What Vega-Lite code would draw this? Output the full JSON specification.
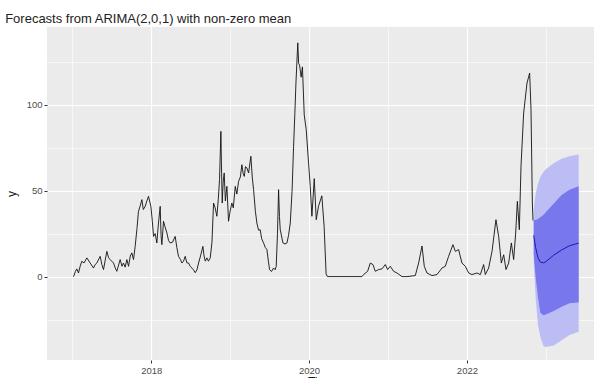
{
  "$schema": "https://vega.github.io/schema/vega-lite/v6.json",
  "width": 547,
  "height": 333,
  "autosize": {"type": "none"},
  "padding": {"left": 47, "top": 27, "right": 0, "bottom": 18},
  "background": "white",
  "title": {
    "text": "Forecasts from ARIMA(2,0,1) with non-zero mean",
    "anchor": "start",
    "font": "Liberation Sans",
    "fontSize": 13,
    "fontWeight": "normal",
    "color": "#222222",
    "offset": 4,
    "dy": 3
  },
  "config": {
    "view": {"fill": "#EBEBEB", "stroke": null},
    "axis": {
      "labelFont": "Liberation Sans",
      "titleFont": "Liberation Sans",
      "labelColor": "#4D4D4D",
      "labelFontSize": 9.5,
      "titleFontSize": 12,
      "titleFontWeight": "normal",
      "titleColor": "#1a1a1a",
      "domain": false,
      "gridColor": "white",
      "tickColor": "#333333",
      "tickSize": 3,
      "labelPadding": 2
    }
  },
  "datasets": {
    "obs": [
      {"t": 2017.016, "y": 0}, {"t": 2017.04, "y": 3}, {"t": 2017.058, "y": 4.5}, {"t": 2017.079, "y": 2.1},
      {"t": 2017.10, "y": 6}, {"t": 2017.121, "y": 8.9}, {"t": 2017.15, "y": 8}, {"t": 2017.185, "y": 10.9},
      {"t": 2017.227, "y": 7.9}, {"t": 2017.269, "y": 5.0}, {"t": 2017.29, "y": 7}, {"t": 2017.311, "y": 7.9},
      {"t": 2017.354, "y": 11.8}, {"t": 2017.375, "y": 7}, {"t": 2017.396, "y": 4.1}, {"t": 2017.438, "y": 14.7},
      {"t": 2017.46, "y": 11}, {"t": 2017.48, "y": 9.9}, {"t": 2017.523, "y": 7.9}, {"t": 2017.545, "y": 5},
      {"t": 2017.565, "y": 3.1}, {"t": 2017.607, "y": 9.9}, {"t": 2017.63, "y": 6}, {"t": 2017.649, "y": 7.9},
      {"t": 2017.67, "y": 5.5}, {"t": 2017.692, "y": 9.9}, {"t": 2017.713, "y": 6.0}, {"t": 2017.735, "y": 12},
      {"t": 2017.755, "y": 13.8}, {"t": 2017.776, "y": 9.9}, {"t": 2017.797, "y": 17.6}, {"t": 2017.82, "y": 28},
      {"t": 2017.839, "y": 38.0}, {"t": 2017.86, "y": 41}, {"t": 2017.882, "y": 44.8}, {"t": 2017.90, "y": 39},
      {"t": 2017.924, "y": 40.9}, {"t": 2017.945, "y": 44}, {"t": 2017.966, "y": 46.7}, {"t": 2017.996, "y": 40.9},
      {"t": 2018.015, "y": 32}, {"t": 2018.03, "y": 23.4}, {"t": 2018.05, "y": 25}, {"t": 2018.072, "y": 19.6},
      {"t": 2018.09, "y": 30}, {"t": 2018.114, "y": 40.9}, {"t": 2018.125, "y": 24}, {"t": 2018.135, "y": 18.6},
      {"t": 2018.156, "y": 32.2}, {"t": 2018.175, "y": 29}, {"t": 2018.199, "y": 25.4}, {"t": 2018.22, "y": 21},
      {"t": 2018.241, "y": 19.6}, {"t": 2018.27, "y": 20}, {"t": 2018.304, "y": 23.4}, {"t": 2018.325, "y": 17},
      {"t": 2018.346, "y": 11.8}, {"t": 2018.37, "y": 10}, {"t": 2018.389, "y": 7.9}, {"t": 2018.41, "y": 9},
      {"t": 2018.431, "y": 11.8}, {"t": 2018.452, "y": 8}, {"t": 2018.473, "y": 7.9}, {"t": 2018.495, "y": 6},
      {"t": 2018.515, "y": 5.0}, {"t": 2018.535, "y": 4}, {"t": 2018.558, "y": 2.3}, {"t": 2018.58, "y": 4},
      {"t": 2018.60, "y": 7.9}, {"t": 2018.625, "y": 12}, {"t": 2018.655, "y": 17.6}, {"t": 2018.67, "y": 12},
      {"t": 2018.685, "y": 9}, {"t": 2018.706, "y": 10.9}, {"t": 2018.725, "y": 9}, {"t": 2018.748, "y": 10.9},
      {"t": 2018.77, "y": 20}, {"t": 2018.79, "y": 42.8}, {"t": 2018.81, "y": 40}, {"t": 2018.832, "y": 35.1},
      {"t": 2018.85, "y": 45}, {"t": 2018.866, "y": 56.4}, {"t": 2018.883, "y": 84.5}, {"t": 2018.892, "y": 60},
      {"t": 2018.90, "y": 42.8}, {"t": 2018.912, "y": 55}, {"t": 2018.925, "y": 60.3}, {"t": 2018.94, "y": 44},
      {"t": 2018.959, "y": 52.5}, {"t": 2018.98, "y": 32.2}, {"t": 2019.00, "y": 38}, {"t": 2019.022, "y": 42.8},
      {"t": 2019.04, "y": 40}, {"t": 2019.065, "y": 52.5}, {"t": 2019.085, "y": 48}, {"t": 2019.107, "y": 55.4},
      {"t": 2019.13, "y": 58}, {"t": 2019.149, "y": 65.1}, {"t": 2019.165, "y": 60}, {"t": 2019.179, "y": 58.3},
      {"t": 2019.195, "y": 64}, {"t": 2019.213, "y": 63.2}, {"t": 2019.234, "y": 60.3}, {"t": 2019.263, "y": 70.0},
      {"t": 2019.28, "y": 58}, {"t": 2019.297, "y": 50.6}, {"t": 2019.32, "y": 38}, {"t": 2019.339, "y": 31.2},
      {"t": 2019.36, "y": 27}, {"t": 2019.381, "y": 27.3}, {"t": 2019.40, "y": 22}, {"t": 2019.424, "y": 19.6},
      {"t": 2019.445, "y": 17}, {"t": 2019.466, "y": 15.7}, {"t": 2019.485, "y": 9}, {"t": 2019.50, "y": 4.0},
      {"t": 2019.525, "y": 3}, {"t": 2019.55, "y": 5.0}, {"t": 2019.57, "y": 4}, {"t": 2019.584, "y": 6},
      {"t": 2019.60, "y": 25}, {"t": 2019.614, "y": 50.6}, {"t": 2019.625, "y": 35}, {"t": 2019.635, "y": 27.3},
      {"t": 2019.669, "y": 19.6}, {"t": 2019.695, "y": 19}, {"t": 2019.72, "y": 19.6}, {"t": 2019.74, "y": 24},
      {"t": 2019.762, "y": 31.2}, {"t": 2019.785, "y": 50}, {"t": 2019.804, "y": 75.8}, {"t": 2019.82, "y": 95},
      {"t": 2019.834, "y": 112.6}, {"t": 2019.857, "y": 136}, {"t": 2019.868, "y": 124}, {"t": 2019.88, "y": 123},
      {"t": 2019.9, "y": 116}, {"t": 2019.916, "y": 122}, {"t": 2019.939, "y": 94}, {"t": 2019.964, "y": 85.5},
      {"t": 2019.994, "y": 66}, {"t": 2020.015, "y": 52.5}, {"t": 2020.036, "y": 35.1}, {"t": 2020.066, "y": 57},
      {"t": 2020.091, "y": 33.1}, {"t": 2020.12, "y": 41}, {"t": 2020.162, "y": 47}, {"t": 2020.191, "y": 29.2},
      {"t": 2020.216, "y": 1.6}, {"t": 2020.233, "y": 0}, {"t": 2020.67, "y": 0}, {"t": 2020.691, "y": 1.2},
      {"t": 2020.742, "y": 3.1}, {"t": 2020.776, "y": 7.9}, {"t": 2020.81, "y": 7.0}, {"t": 2020.839, "y": 3.1},
      {"t": 2020.881, "y": 4.1}, {"t": 2020.924, "y": 4.5}, {"t": 2020.966, "y": 7.0}, {"t": 2020.995, "y": 4.1},
      {"t": 2021.029, "y": 6.0}, {"t": 2021.071, "y": 3.1}, {"t": 2021.114, "y": 2.1}, {"t": 2021.177, "y": 0},
      {"t": 2021.24, "y": 0}, {"t": 2021.346, "y": 0.6}, {"t": 2021.388, "y": 7.9}, {"t": 2021.431, "y": 17.8},
      {"t": 2021.46, "y": 6.0}, {"t": 2021.494, "y": 2.1}, {"t": 2021.557, "y": 0.6}, {"t": 2021.621, "y": 1.2},
      {"t": 2021.684, "y": 5.0}, {"t": 2021.726, "y": 6.0}, {"t": 2021.768, "y": 11.8}, {"t": 2021.823, "y": 18.6},
      {"t": 2021.853, "y": 14.7}, {"t": 2021.895, "y": 15.7}, {"t": 2021.937, "y": 7.9}, {"t": 2021.98, "y": 6.0},
      {"t": 2022.022, "y": 2.1}, {"t": 2022.064, "y": 1.2}, {"t": 2022.128, "y": 2.1}, {"t": 2022.17, "y": 1.2},
      {"t": 2022.212, "y": 7.0}, {"t": 2022.233, "y": 1.2}, {"t": 2022.275, "y": 5.0}, {"t": 2022.318, "y": 14.7},
      {"t": 2022.368, "y": 33.1}, {"t": 2022.402, "y": 23.4}, {"t": 2022.436, "y": 7.9}, {"t": 2022.466, "y": 12.7},
      {"t": 2022.495, "y": 4.1}, {"t": 2022.529, "y": 7.9}, {"t": 2022.563, "y": 19.6}, {"t": 2022.592, "y": 9.9},
      {"t": 2022.618, "y": 25.4}, {"t": 2022.639, "y": 43.8}, {"t": 2022.664, "y": 27.3}, {"t": 2022.685, "y": 64.1},
      {"t": 2022.719, "y": 95.2}, {"t": 2022.761, "y": 112.6}, {"t": 2022.795, "y": 118.4}, {"t": 2022.812, "y": 97.1},
      {"t": 2022.829, "y": 42.8}, {"t": 2022.837, "y": 32.7}
    ],
    "fc": [
      {"t": 2022.846, "mean": 24, "lo80": 13, "hi80": 33, "lo95": 8, "hi95": 39},
      {"t": 2022.87, "mean": 17, "lo80": 0, "hi80": 33, "lo95": -12, "hi95": 48},
      {"t": 2022.9, "mean": 11, "lo80": -12, "hi80": 33.5, "lo95": -28, "hi95": 54},
      {"t": 2022.93, "mean": 8.5, "lo80": -21, "hi80": 34.5, "lo95": -35, "hi95": 58},
      {"t": 2022.97, "mean": 8, "lo80": -22.5, "hi80": 36, "lo95": -40.5, "hi95": 61},
      {"t": 2023.0, "mean": 8.7, "lo80": -22, "hi80": 37.5, "lo95": -41, "hi95": 62.5},
      {"t": 2023.1, "mean": 12.5, "lo80": -20, "hi80": 42.5, "lo95": -40, "hi95": 66},
      {"t": 2023.2, "mean": 15.5, "lo80": -17.5, "hi80": 47.5, "lo95": -37, "hi95": 68.5},
      {"t": 2023.3, "mean": 18, "lo80": -15.5, "hi80": 50.5, "lo95": -34, "hi95": 70},
      {"t": 2023.416, "mean": 19.5, "lo80": -15, "hi80": 52.5, "lo95": -32, "hi95": 71}
    ]
  },
  "encoding": {
    "x": {
      "field": "t",
      "type": "quantitative",
      "scale": {"domain": [2016.68, 2023.61], "nice": false, "zero": false},
      "axis": {
        "title": "Time",
        "titlePadding": 2,
        "values": [2017, 2018, 2019, 2020, 2021, 2022, 2023],
        "format": "d",
        "labelExpr": "datum.value % 2 == 0 ? datum.label : ''",
        "gridWidth": {"condition": {"test": "datum.value % 2 == 1", "value": 0.6}, "value": 1.2},
        "tickOpacity": {"condition": {"test": "datum.value % 2 == 1", "value": 0}, "value": 1}
      }
    }
  },
  "layer": [
    {
      "data": {"name": "fc"},
      "mark": {"type": "area", "color": "#BDBDF5", "opacity": 1},
      "encoding": {
        "y": {
          "field": "lo95",
          "type": "quantitative",
          "scale": {"domain": [-48.5, 145.2], "nice": false, "zero": false},
          "axis": {
            "title": "y",
            "titlePadding": 8,
            "values": [-25, 0, 25, 50, 75, 100, 125],
            "labelExpr": "datum.value % 50 == 0 ? datum.label : ''",
            "gridWidth": {"condition": {"test": "datum.value % 50 != 0", "value": 0.6}, "value": 1.2},
            "tickOpacity": {"condition": {"test": "datum.value % 50 != 0", "value": 0}, "value": 1}
          }
        },
        "y2": {"field": "hi95"}
      }
    },
    {
      "data": {"name": "fc"},
      "mark": {"type": "area", "color": "#7878EC", "opacity": 1},
      "encoding": {
        "y": {"field": "lo80", "type": "quantitative"},
        "y2": {"field": "hi80"}
      }
    },
    {
      "data": {"name": "obs"},
      "mark": {"type": "line", "color": "#111111", "strokeWidth": 0.9},
      "encoding": {
        "y": {"field": "y", "type": "quantitative"}
      }
    },
    {
      "data": {"name": "fc"},
      "mark": {"type": "line", "color": "#0000AA", "strokeWidth": 0.8},
      "encoding": {
        "y": {"field": "mean", "type": "quantitative"}
      }
    }
  ]
}
